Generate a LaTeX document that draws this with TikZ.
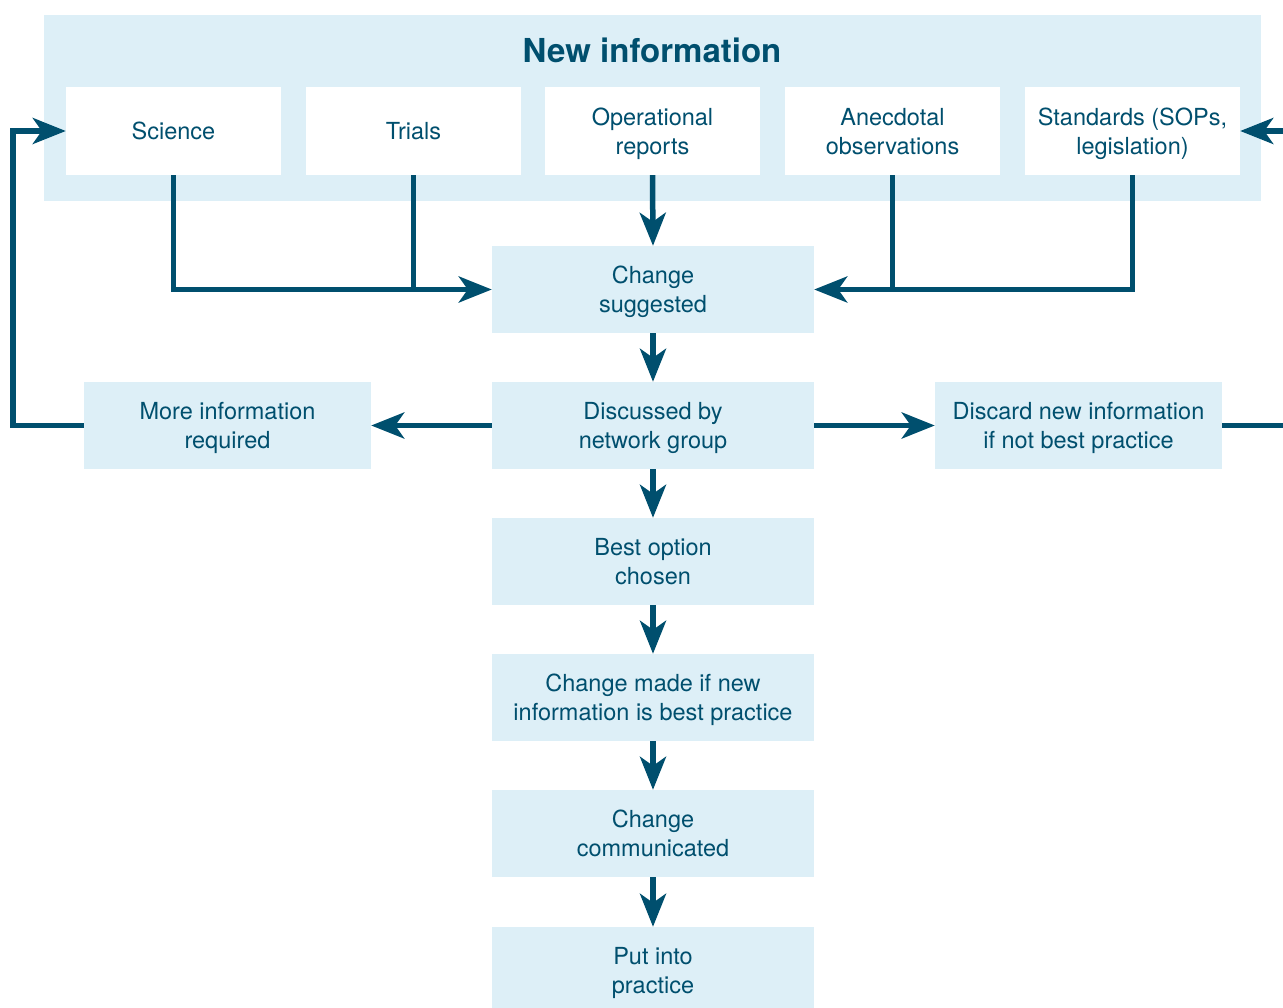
\documentclass[tikz,border=0pt]{standalone}
\usepackage{fontspec}
\setmainfont{TeX Gyre Heros}
\usetikzlibrary{arrows.meta}
\definecolor{netblue}{HTML}{004F6E}
\definecolor{netpale}{HTML}{DDEFF7}
\begin{document}
\begin{tikzpicture}[x=1pt, y=-1pt,
        src/.style={fill=white, text=netblue, minimum width=215pt, minimum height=88pt,
            inner sep=0pt, align=center, text depth=0pt, font=\fontsize{23.5}{29}\selectfont},
        stage/.style={src, fill=netpale, minimum width=322pt, minimum height=87pt},
        side/.style={stage, minimum width=287pt},
        flow/.style={draw=netblue, line width=5.5pt, -{Stealth[length=33pt, width=26pt, inset=9pt]}},
        feed/.style={draw=netblue, line width=5.5pt}]
    \useasboundingbox (0,0) rectangle (1283,1008);
    \clip (0,0) rectangle (1283,1008);

    % New information band
    \fill[netpale] (44,15) rectangle (1261,201);
    \node[text=netblue, font=\fontsize{33}{40}\selectfont\bfseries] (title) at (652,50) {New information};
    \node[src] (sci) at (173.5,131) {Science};
    \node[src] (tri) at (413.5,131) {Trials};
    \node[src] (ops) at (652.5,131) {Operational\\reports};
    \node[src] (obs) at (892.5,131) {Anecdotal\\observations};
    \node[src] (std) at (1132.5,131) {Standards (SOPs,\\legislation)};

    % Main chain
    \node[stage] (chg) at (653,289.5) {Change\\suggested};
    \node[stage] (grp) at (653,425.5) {Discussed by\\network group};
    \node[stage] (best) at (653,561.5) {Best option\\chosen};
    \node[stage] (made) at (653,697.5) {Change made if new\\information is best practice};
    \node[stage] (comm) at (653,833.5) {Change\\communicated};
    \node[stage] (put) at (653,970.5) {Put into\\practice};

    % Side outcomes
    \node[side] (more) at (227.5,425.5) {More information\\required};
    \node[side] (drop) at (1078.5,425.5) {Discard new information\\if not best practice};

    % Sources into suggestion
    \draw[flow] (sci.south) |- (chg.west);
    \draw[feed] (tri.south) -- (tri.south |- chg.west);
    \draw[flow] (ops.south) -- (chg.north);
    \draw[flow] (std.south) |- (chg.east);
    \draw[feed] (obs.south) -- (obs.south |- chg.east);

    \foreach \a/\b in {chg/grp, grp/best, best/made, made/comm, comm/put}
        \draw[flow] (\a) -- (\b);

    \draw[flow] (grp) -- (more);
    \draw[flow] (grp) -- (drop);

    % Feedback loops
    \draw[flow] (more.west) -- ++(-71,0) |- (sci.west);
    \coordinate (out) at (1320,425.5);
    \draw[flow] (drop.east) -- (out) |- (std.east);
\end{tikzpicture}
\end{document}
